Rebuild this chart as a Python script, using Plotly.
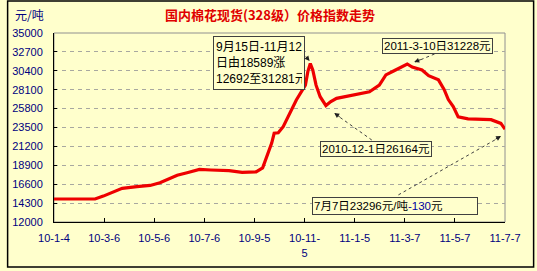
import plotly.graph_objects as go

# ---- data ----
dates = ["2010-01-04", "2010-02-23", "2010-03-05", "2010-03-20", "2010-03-28", "2010-04-15",
         "2010-05-01", "2010-05-13", "2010-05-25", "2010-06-03", "2010-06-15", "2010-06-30",
         "2010-07-14", "2010-08-05", "2010-08-21", "2010-09-07", "2010-09-15", "2010-09-20",
         "2010-09-26", "2010-09-29", "2010-10-04", "2010-10-10", "2010-10-19", "2010-10-26",
         "2010-11-06", "2010-11-09", "2010-11-12", "2010-11-15", "2010-11-19", "2010-11-24",
         "2010-12-01", "2010-12-07", "2010-12-14", "2011-01-07", "2011-01-23", "2011-02-04",
         "2011-02-12", "2011-02-22", "2011-03-03", "2011-03-10", "2011-03-16", "2011-03-28",
         "2011-04-05", "2011-04-17", "2011-04-24", "2011-04-29", "2011-05-05", "2011-05-11",
         "2011-05-23", "2011-06-20", "2011-07-02", "2011-07-07"]
prices = [14800, 14800, 15150, 15750, 16100, 16300,
          16450, 16780, 17350, 17700, 18000, 18400,
          18330, 18250, 18050, 18100, 18589, 19950,
          21600, 22800, 22850, 23600, 25400, 26850,
          28650, 30300, 31281, 30500, 28650, 27250,
          26164, 26650, 27050, 27550, 27850, 28650,
          29900, 30400, 30900, 31228, 30850, 30500,
          29800, 29300, 28100, 26900, 26050, 24800,
          24550, 24450, 24000, 23296]

tick_dates = ["2010-01-04", "2010-03-06", "2010-05-06", "2010-07-06", "2010-09-05",
              "2010-11-05", "2011-01-05", "2011-03-07", "2011-05-07", "2011-07-07"]
tick_labels = ["10-1-4", "10-3-6", "10-5-6", "10-7-6", "10-9-5",
               "10-11-<br>5", "11-1-5", "11-3-7", "11-5-7", "11-7-7"]
y_ticks = [12000, 14300, 16600, 18900, 21200, 23500, 25800, 28100, 30400, 32700, 35000]
y_labels = [str(v) for v in y_ticks]

title_text = "国内棉花现货(328级）价格指数走势"
unit_text = "元/吨"
callouts = ["9月15日-11月12<br>日由18589涨<br>12692至31281元",
            "2011-3-10日31228元",
            "2010-12-1日26164元",
            "7月7日23296元/吨<span style='color:#0000A0'>-130</span>元"]

# ---- geometry helpers (pixel -> paper) ----
L, R, T, B = 48, 32, 33, 49
W, H = 537, 271
PW, PH = W - L - R, H - T - B
def px(x):
    return (x - L) / PW
def py(y):
    return (H - B - y) / PH

BG = "#FFFFCC"
NAVY = "#000080"
FONT = "Liberation Sans, Noto Sans CJK SC, sans-serif"

fig = go.Figure()
fig.add_trace(go.Scatter(x=dates, y=prices, mode="lines",
                         line=dict(color="#EE0000", width=3.2), hoverinfo="skip"))

shapes = [
    dict(type="rect", xref="paper", yref="paper", x0=0, y0=0, x1=1, y1=1,
         line=dict(color="#909090", width=1), layer="below"),
    dict(type="rect", xref="paper", yref="paper", x0=px(1), y0=py(267), x1=px(534), y1=py(1),
         line=dict(color="black", width=1.5)),
    dict(type="line", xref="paper", yref="paper", x0=px(414), y0=py(62), x1=px(436), y1=py(53),
         line=dict(color="#404040", width=1, dash="dot")),
    dict(type="line", xref="paper", yref="paper", x0=px(333), y0=py(114), x1=px(370), y1=py(140),
         line=dict(color="#404040", width=1, dash="dot")),
    dict(type="line", xref="paper", yref="paper", x0=px(500), y0=py(137), x1=px(395), y1=py(196),
         line=dict(color="#404040", width=1, dash="dot")),
]

annotations = [
    dict(text=f"<b>{title_text}</b>", xref="paper", yref="paper", x=px(267), y=py(15),
         xanchor="center", yanchor="middle", showarrow=False,
         font=dict(family="Noto Sans CJK SC", size=13, color="#E00000")),
    dict(text=unit_text, xref="paper", yref="paper", x=px(6), y=py(15),
         xanchor="left", yanchor="middle", showarrow=False,
         font=dict(family="Noto Sans CJK SC", size=12, color=NAVY)),
    dict(text=callouts[0], xref="paper", yref="paper", x=px(209), y=py(36),
         xanchor="left", yanchor="top", showarrow=False, align="left",
         bgcolor=BG, bordercolor="#404040", borderwidth=1, borderpad=2,
         width=86, height=48,
         font=dict(family=FONT, size=12, color="black")),
    dict(text=callouts[1], xref="paper", yref="paper", x=px(380), y=py(38),
         xanchor="left", yanchor="top", showarrow=False, align="left",
         bgcolor=BG, bordercolor="#404040", borderwidth=1, borderpad=1,
         font=dict(family=FONT, size=11.5, color="black")),
    dict(text=callouts[2], xref="paper", yref="paper", x=px(318), y=py(141),
         xanchor="left", yanchor="top", showarrow=False, align="left",
         bgcolor=BG, bordercolor="#404040", borderwidth=1, borderpad=1,
         font=dict(family=FONT, size=11.5, color="black")),
    dict(text=callouts[3], xref="paper", yref="paper", x=px(309), y=py(197),
         xanchor="left", yanchor="top", showarrow=False, align="left",
         bgcolor=BG, bordercolor="#404040", borderwidth=1, borderpad=1,
         width=162, height=14,
         font=dict(family=FONT, size=11.5, color="black")),
    dict(text="", xref="paper", yref="paper", x=px(307), y=py(61), ax=-5, ay=-6,
         showarrow=True, arrowhead=2, arrowsize=1, arrowwidth=1, arrowcolor="#202020"),
    dict(text="", xref="paper", yref="paper", x=px(413), y=py(62), ax=8, ay=-3,
         showarrow=True, arrowhead=2, arrowsize=1, arrowwidth=1, arrowcolor="#202020"),
    dict(text="", xref="paper", yref="paper", x=px(332), y=py(113), ax=7, ay=5,
         showarrow=True, arrowhead=2, arrowsize=1, arrowwidth=1, arrowcolor="#202020"),
    dict(text="", xref="paper", yref="paper", x=px(501), y=py(136), ax=-7, ay=4,
         showarrow=True, arrowhead=2, arrowsize=1, arrowwidth=1, arrowcolor="#202020"),
]

fig.update_layout(
    width=W, height=H,
    margin=dict(l=L, r=R, t=T, b=B, pad=0),
    paper_bgcolor=BG, plot_bgcolor=BG,
    showlegend=False,
    shapes=shapes,
    annotations=annotations,
    xaxis=dict(type="date", range=["2010-01-04", "2011-07-07"],
               tickmode="array", tickvals=tick_dates, ticktext=tick_labels,
               showgrid=False, zeroline=False,
               showline=True, linecolor="black", linewidth=1,
               ticks="inside", ticklen=4, tickcolor="black",
               tickfont=dict(family=FONT, size=11, color=NAVY),
               ticklabelstandoff=6, tickangle=0),
    yaxis=dict(range=[12000, 35000], tickmode="array", tickvals=y_ticks, ticktext=y_labels,
               showgrid=True, gridcolor="#A8A8A0", griddash="4px,4px", gridwidth=1,
               zeroline=False, showline=True, linecolor="black", linewidth=1,
               ticks="inside", ticklen=3, tickcolor="black",
               tickfont=dict(family=FONT, size=11, color=NAVY),
               ticklabelstandoff=8),
)

fig.write_html("out.html")
